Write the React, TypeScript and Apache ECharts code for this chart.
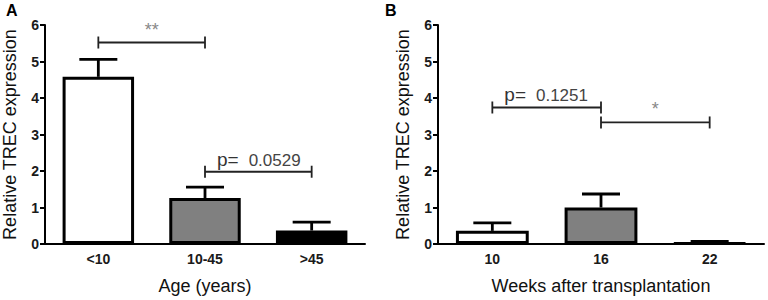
import React, { useEffect, useRef } from 'react';
import * as echarts from 'echarts';

// Panel A data
const ageCategories = ['<10', '10-45', '>45'];
const ageMeans = [4.58, 1.26, 0.37];
const ageSem = [0.48, 0.3, 0.23];
const ageBracketFrom = [0, 1];
const ageBracketTo = [1, 2];
const ageBracketY = [5.52, 1.98];
const ageBracketLabel = ['**', 'p= 0.0529'];

// Panel B data
const weekCategories = ['10', '16', '22'];
const weekMeans = [0.36, 1.0, 0.03];
const weekSem = [0.22, 0.37, 0.04];
const weekBracketFrom = [0, 1];
const weekBracketTo = [1, 2];
const weekBracketY = [3.74, 3.33];
const weekBracketLabel = ['p= 0.1251', '*'];

const yTicks = [0, 1, 2, 3, 4, 5, 6];

const barFills = ['#ffffff', '#808080', '#000000'];
const FONT = 'Arial, "Liberation Sans", Helvetica, sans-serif';

function xAxisFor(gridIndex: number, cats: string[], name: string) {
  return {
    type: 'category',
    gridIndex,
    data: cats,
    boundaryGap: true,
    axisLine: { lineStyle: { color: '#000', width: 2 } },
    axisTick: { alignWithLabel: true, length: 5, lineStyle: { color: '#000', width: 2 } },
    axisLabel: { color: '#1a1a1a', fontSize: 14, fontWeight: 'bold', fontFamily: FONT, margin: 8 },
    name,
    nameLocation: 'middle',
    nameGap: 33,
    nameTextStyle: { fontSize: 18, color: '#111', fontFamily: FONT },
  };
}

function yAxisFor(gridIndex: number) {
  return {
    type: 'value',
    gridIndex,
    min: yTicks[0],
    max: yTicks[yTicks.length - 1],
    interval: 1,
    splitLine: { show: false },
    axisLine: { show: true, lineStyle: { color: '#000', width: 2 } },
    axisTick: { show: true, length: 5, lineStyle: { color: '#000', width: 2 } },
    axisLabel: { color: '#1a1a1a', fontSize: 14, fontWeight: 'bold', fontFamily: FONT, margin: 6 },
    name: 'Relative TREC expression',
    nameLocation: 'middle',
    nameRotate: 90,
    nameGap: 26,
    nameTextStyle: { fontSize: 18, color: '#111', fontFamily: FONT },
  };
}

function barSeries(idx: number, means: number[]) {
  return {
    type: 'bar',
    xAxisIndex: idx,
    yAxisIndex: idx,
    barWidth: '67%',
    data: means.map((v, i) => ({ value: v, itemStyle: { color: barFills[i] } })),
    itemStyle: { borderColor: '#000', borderWidth: 3 },
    z: 2,
  };
}

function errorSeries(idx: number, means: number[], sem: number[]) {
  return {
    type: 'custom',
    xAxisIndex: idx,
    yAxisIndex: idx,
    z: 3,
    encode: { x: 0, y: 1 },
    data: means.map((m, i) => [i, m, sem[i]]),
    renderItem: (params: any, api: any) => {
      const x = api.value(0);
      const m = api.value(1);
      const e = api.value(2);
      const p0 = api.coord([x, m]);
      const p1 = api.coord([x, m + e]);
      const style = { stroke: '#000', lineWidth: 2.8 };
      return {
        type: 'group',
        children: [
          { type: 'line', shape: { x1: p0[0], y1: p0[1], x2: p1[0], y2: p1[1] }, style },
          { type: 'line', shape: { x1: p1[0] - 19, y1: p1[1], x2: p1[0] + 19, y2: p1[1] }, style },
        ],
      };
    },
  };
}

function bracketSeries(idx: number, from: number[], to: number[], ys: number[], labels: string[]) {
  return {
    type: 'custom',
    xAxisIndex: idx,
    yAxisIndex: idx,
    z: 4,
    encode: { x: [0, 1], y: 2 },
    data: from.map((f, i) => [f, to[i], ys[i]]),
    renderItem: (params: any, api: any) => {
      const a = api.coord([api.value(0), api.value(2)]);
      const b = api.coord([api.value(1), api.value(2)]);
      const label = labels[params.dataIndex];
      const style = { stroke: '#222', lineWidth: 1.8 };
      const children: any[] = [
        { type: 'line', shape: { x1: a[0], y1: a[1], x2: b[0], y2: b[1] }, style },
        { type: 'line', shape: { x1: a[0], y1: a[1] - 6, x2: a[0], y2: a[1] + 6 }, style },
        { type: 'line', shape: { x1: b[0], y1: b[1] - 6, x2: b[0], y2: b[1] + 6 }, style },
      ];
      if (label.startsWith('p=')) {
        const num = label.replace('p=', '').trim();
        children.push({
          type: 'text',
          x: a[0] + 12,
          y: a[1] - 3,
          style: {
            text: '{p|p=}{s| }{n|' + num + '}',
            align: 'left',
            verticalAlign: 'bottom',
            rich: {
              p: { fontSize: 19, fill: '#333', fontFamily: FONT, verticalAlign: 'bottom' },
              s: { fontSize: 19, width: 10, verticalAlign: 'bottom' },
              n: { fontSize: 17, fill: '#444', fontFamily: FONT, verticalAlign: 'bottom' },
            },
          },
        });
      } else {
        children.push({
          type: 'text',
          x: (a[0] + b[0]) / 2,
          y: a[1] - 13,
          style: {
            text: label,
            align: 'center',
            verticalAlign: 'middle',
            fontSize: 18,
            fontFamily: FONT,
            fill: '#888',
          },
        });
      }
      return { type: 'group', children };
    },
  };
}

export default function App() {
  const ref = useRef<HTMLDivElement>(null);
  useEffect(() => {
    document.body.style.margin = '0';
    if (!ref.current) return;
    const chart = echarts.init(ref.current, undefined, { renderer: 'svg' });
    chart.setOption({
      animation: false,
      backgroundColor: '#ffffff',
      grid: [
        { left: 44, top: 25, width: 321, height: 220 },
        { left: 438, top: 25, width: 326, height: 221 },
      ],
      xAxis: [
        xAxisFor(0, ageCategories, 'Age (years)'),
        xAxisFor(1, weekCategories, 'Weeks after transplantation'),
      ],
      yAxis: [yAxisFor(0), yAxisFor(1)],
      graphic: [
        { type: 'text', left: 6, top: 2, style: { text: 'A', fontSize: 16, fontWeight: 'bold', fontFamily: FONT, fill: '#000' } },
        { type: 'text', left: 385, top: 2, style: { text: 'B', fontSize: 16, fontWeight: 'bold', fontFamily: FONT, fill: '#000' } },
      ],
      series: [
        barSeries(0, ageMeans),
        errorSeries(0, ageMeans, ageSem),
        bracketSeries(0, ageBracketFrom, ageBracketTo, ageBracketY, ageBracketLabel),
        barSeries(1, weekMeans),
        errorSeries(1, weekMeans, weekSem),
        bracketSeries(1, weekBracketFrom, weekBracketTo, weekBracketY, weekBracketLabel),
      ],
    });
    return () => chart.dispose();
  }, []);
  return <div ref={ref} style={{ width: 768, height: 300 }} />;
}
